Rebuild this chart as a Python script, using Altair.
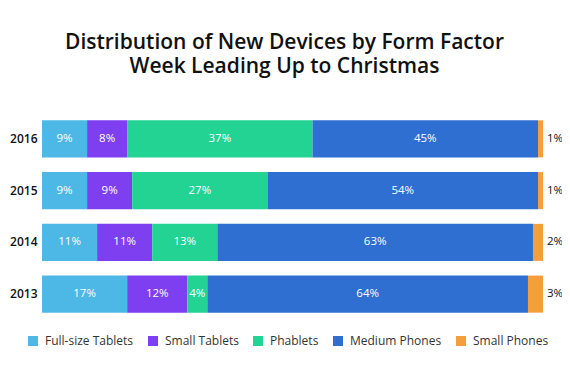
import altair as alt
import pandas as pd

years = ["2016", "2015", "2014", "2013"]
categories = ["Full-size Tablets", "Small Tablets", "Phablets", "Medium Phones", "Small Phones"]
full_size_tablets = [9, 9, 11, 17]
small_tablets = [8, 9, 11, 12]
phablets = [37, 27, 13, 4]
medium_phones = [45, 54, 63, 64]
small_phones = [1, 1, 2, 3]
colors = ["#4db8e6", "#7e3ff0", "#22d394", "#2f6fd1", "#f59e3c"]

series = [full_size_tablets, small_tablets, phablets, medium_phones, small_phones]
rows = []
for ci, (cat, vals) in enumerate(zip(categories, series)):
    for y, v in zip(years, vals):
        rows.append({"year": y, "category": cat, "value": v, "order": ci})
df = pd.DataFrame(rows)

FONT = "Open Sans"

base = (
    alt.Chart(df)
    .transform_stack(
        stack="value",
        groupby=["year"],
        sort=[alt.SortField("order", order="ascending")],
        as_=["x0", "x1"],
    )
    .transform_calculate(mid="(datum.x0 + datum.x1) / 2", label="datum.value + '%'")
)

yenc = alt.Y(
    "year:N",
    sort=years,
    title=None,
    scale=alt.Scale(paddingInner=0.284, paddingOuter=0.142),
    axis=alt.Axis(
        domain=False,
        ticks=False,
        labelFont=FONT,
        labelFontSize=12,
        labelFontWeight=600,
        labelColor="#111111",
        labelPadding=5,
    ),
)

bars = base.mark_bar().encode(
    y=yenc,
    x=alt.X("x0:Q", scale=alt.Scale(domain=[0, 100]), axis=None),
    x2="x1:Q",
    color=alt.Color(
        "category:N",
        scale=alt.Scale(domain=categories, range=colors),
        legend=alt.Legend(
            title=None,
            orient="none",
            direction="horizontal",
            legendX=-15,
            legendY=222,
            symbolType="square",
            symbolSize=100,
            symbolStrokeWidth=0,
            labelFont=FONT,
            labelFontSize=12,
            labelColor="#333333",
            labelOffset=6,
            columnPadding=13,
        ),
    ),
    order=alt.Order("order:Q"),
)

inner = (
    base.transform_filter("datum.category != 'Small Phones'")
    .mark_text(color="white", font=FONT, fontSize=11.5, fontWeight=500)
    .encode(y=yenc, x=alt.X("mid:Q"), text="label:N")
)

outer = (
    base.transform_filter("datum.category == 'Small Phones'")
    .mark_text(color="#111111", font=FONT, fontSize=11.5, fontWeight=500, align="left", dx=4)
    .encode(y=yenc, x=alt.X("x1:Q"), text="label:N")
)

chart = (
    alt.layer(bars, inner, outer)
    .properties(
        width=501,
        height=207,
        autosize=alt.AutoSizeParams(type="none"),
        padding={"left": 34, "top": 105, "right": 19, "bottom": 40},
        title=alt.TitleParams(
            text=["Distribution of New Devices by Form Factor", "Week Leading Up to Christmas"],
            anchor="middle",
            font=FONT,
            fontSize=21,
            fontWeight=600,
            color="#111111",
            lineHeight=24,
            offset=36,
            dx=-8,
        ),
    )
    .configure_view(stroke=None)
)

chart.save("out.html", embed_options={"renderer": "svg", "actions": False})
